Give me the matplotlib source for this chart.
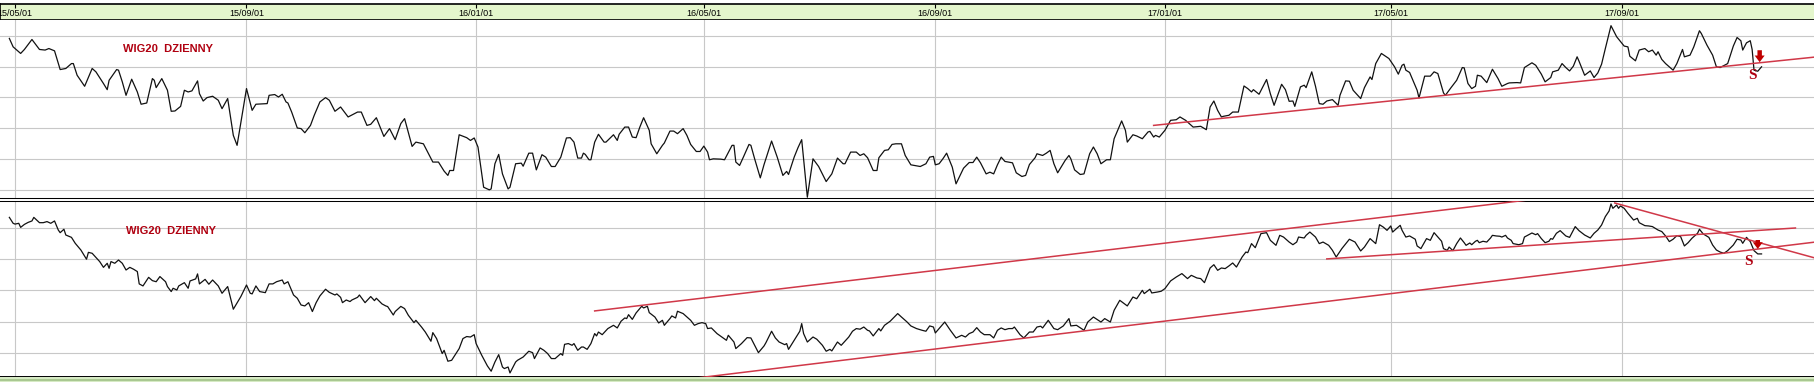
import numpy as np
import matplotlib
matplotlib.use("Agg")
import matplotlib.pyplot as plt
import matplotlib.dates as mdates
from matplotlib.patches import Rectangle

plt.rcParams['font.family'] = ['Liberation Sans', 'DejaVu Sans']

# --- data: days counted from 2015-05-01, index levels ---
START = np.datetime64('2015-05-01')

top_days = [
    -3, -1, 3, 5, 9, 13, 16, 18, 21, 24, 27, 30,
    31, 33, 37, 41, 43, 47, 49, 50, 54, 55, 57, 59,
    62, 65, 67, 70, 73, 74, 75, 78, 81, 83, 85, 88,
    90, 92, 94, 97, 98, 100, 102, 105, 108, 110, 113, 116,
    118, 123, 126, 128, 134, 135, 138, 140, 142, 144, 145, 147,
    150, 152, 154, 157, 159, 162, 165, 167, 170, 173, 177, 182,
    184, 187, 189, 192, 196, 199, 202, 205, 207, 211, 213, 217,
    222, 225, 228, 230, 231, 233, 236, 240, 242, 244, 246, 249,
    252, 253, 255, 257, 259, 262, 263, 266, 269, 270, 273, 275,
    277, 280, 282, 285, 287, 290, 293, 295, 297, 299, 301, 302,
    303, 305, 306, 308, 310, 313, 314, 318, 320, 321, 324, 326,
    328, 330, 332, 334, 337, 338, 341, 344, 345, 348, 350, 352,
    355, 357, 359, 362, 364, 366, 368, 369, 371, 375, 377, 381,
    382, 383, 385, 387, 390, 391, 393, 396, 398, 402, 405, 408,
    410, 411, 414, 416, 418, 421, 424, 427, 431, 434, 437, 440,
    441, 444, 447, 449, 451, 453, 456, 458, 459, 462, 464, 466,
    468, 471, 473, 476, 481, 484, 486, 488, 489, 491, 493, 495,
    498, 500, 504, 507, 509, 511, 513, 516, 518, 520, 522, 524,
    526, 530, 532, 535, 537, 539, 542, 543, 546, 548, 550, 552,
    554, 558, 560, 561, 563, 566, 568, 571, 573, 575, 577, 580,
    582, 584, 588, 590, 591, 594, 596, 599, 602, 603, 605, 606,
    608, 611, 614, 617, 619, 622, 626, 630, 633, 635, 637, 639,
    641, 642, 645, 647, 650, 653, 655, 657, 658, 661, 665, 667,
    669, 673, 675, 677, 679, 680, 683, 685, 686, 689, 691, 693,
    695, 697, 700, 703, 704, 707, 709, 711, 715, 717, 720, 721,
    723, 726, 730, 733, 735, 737, 738, 739, 741, 745, 746, 749,
    752, 754, 756, 759, 760, 763, 766, 769, 770, 772, 774, 776,
    777, 779, 782, 785, 788, 790, 793, 794, 798, 800, 802, 806,
    808, 811, 813, 816, 817, 820, 822, 824, 826, 828, 830, 831,
    834, 837, 839, 841, 843, 845, 848, 851, 855, 857, 858, 861,
    863, 866, 868, 870, 872, 873, 875, 877, 881, 883, 886, 887,
    890, 892, 895, 896, 899, 902, 904, 906, 910, 913, 915, 917,
    918, 920, 922, 923, 924, 926, 928,
]
top_vals = [
    2585, 2530, 2487, 2513, 2578, 2513, 2509, 2519, 2504, 2382, 2389, 2421,
    2421, 2345, 2273, 2389, 2367, 2291, 2251, 2312, 2382, 2378, 2302, 2214,
    2319, 2236, 2156, 2164, 2323, 2312, 2264, 2323, 2247, 2110, 2112, 2142,
    2247, 2236, 2243, 2308, 2225, 2177, 2199, 2208, 2182, 2127, 2193, 1953,
    1888, 2258, 2116, 2156, 2160, 2214, 2219, 2203, 2221, 2171, 2164, 2105,
    2001, 1997, 1970, 2018, 2084, 2171, 2199, 2182, 2110, 2138, 2073, 2105,
    2105, 2018, 2025, 2068, 1946, 1997, 1925, 2030, 2062, 1881, 1909, 1898,
    1779, 1779, 1720, 1692, 1724, 1724, 1957, 1938, 1920, 1936, 1877, 1615,
    1598, 1604, 1768, 1829, 1702, 1604, 1615, 1768, 1772, 1752, 1837, 1837,
    1728, 1827, 1811, 1750, 1750, 1811, 1936, 1938, 1909, 1805, 1805, 1837,
    1829, 1794, 1794, 1909, 1960, 1909, 1909, 1957, 1920, 1960, 2007, 2007,
    1942, 1938, 2007, 2068, 1986, 1898, 1833, 1888, 1903, 1981, 1981, 1964,
    1997, 1953, 1894, 1848, 1848, 1883, 1844, 1794, 1800, 1798, 1794, 1888,
    1888, 1779, 1757, 1811, 1894, 1888, 1800, 1676, 1763, 1916, 1811, 1692,
    1718, 1698, 1811, 1872, 1925, 1550, 1800, 1750, 1652, 1702, 1805, 1768,
    1768, 1844, 1844, 1822, 1833, 1807, 1724, 1724, 1807, 1855, 1859, 1894,
    1898, 1898, 1822, 1761, 1750, 1768, 1811, 1816, 1761, 1768, 1800, 1837,
    1746, 1637, 1739, 1776, 1776, 1811, 1774, 1702, 1713, 1702, 1761, 1811,
    1783, 1774, 1709, 1685, 1692, 1763, 1807, 1833, 1822, 1837, 1855, 1768,
    1709, 1790, 1822, 1800, 1728, 1698, 1702, 1833, 1877, 1833, 1768, 1794,
    1794, 1931, 2047, 1986, 1909, 1957, 1949, 1931, 1975, 1979, 1942, 1953,
    1942, 1986, 2051, 2055, 2073, 2051, 2007, 2012, 1990, 2138, 2177, 2116,
    2073, 2077, 2084, 2105, 2105, 2275, 2258, 2236, 2251, 2221, 2317, 2225,
    2149, 2286, 2251, 2175, 2177, 2142, 2269, 2280, 2264, 2367, 2273, 2160,
    2156, 2177, 2186, 2149, 2214, 2308, 2306, 2247, 2193, 2264, 2334, 2317,
    2421, 2487, 2454, 2400, 2352, 2410, 2417, 2378, 2363, 2247, 2197, 2339,
    2339, 2367, 2356, 2230, 2214, 2264, 2312, 2395, 2393, 2291, 2258, 2273,
    2345, 2339, 2297, 2384, 2323, 2273, 2291, 2295, 2297, 2295, 2395, 2426,
    2410, 2352, 2302, 2330, 2367, 2378, 2421, 2395, 2373, 2404, 2465, 2437,
    2345, 2373, 2330, 2360, 2417, 2519, 2668, 2596, 2535, 2530, 2469, 2439,
    2509, 2519, 2498, 2509, 2476, 2498, 2448, 2421, 2378, 2421, 2513, 2465,
    2476, 2530, 2635, 2617, 2541, 2476, 2400, 2395, 2421, 2535, 2591, 2570,
    2509, 2556, 2570, 2513, 2378, 2371, 2400,
]

bot_days = [
    -3, -1, 0, 2, 3, 5, 7, 9, 10, 13, 15, 17,
    19, 21, 23, 24, 26, 27, 30, 32, 35, 38, 39, 41,
    43, 45, 47, 49, 50, 51, 53, 55, 57, 59, 61, 63,
    65, 66, 68, 71, 73, 75, 77, 80, 81, 83, 84, 86,
    87, 90, 92, 93, 96, 97, 98, 101, 103, 105, 108, 110,
    113, 116, 120, 123, 125, 126, 128, 130, 133, 135, 137, 139,
    142, 143, 145, 148, 150, 152, 154, 156, 158, 160, 162, 165,
    167, 170, 171, 173, 174, 176, 178, 179, 182, 183, 186, 189,
    191, 192, 195, 197, 198, 201, 202, 205, 207, 209, 212, 213,
    216, 218, 221, 222, 224, 227, 228, 230, 232, 236, 238, 240,
    242, 244, 245, 248, 251, 253, 255, 257, 259, 260, 262, 263,
    266, 267, 270, 273, 275, 276, 279, 281, 283, 285, 287, 290,
    291, 292, 294, 296, 297, 299, 301, 302, 304, 306, 308, 309,
    310, 312, 315, 318, 320, 322, 324, 325, 326, 328, 330, 333,
    334, 336, 337, 340, 342, 344, 345, 348, 349, 351, 352, 355,
    359, 361, 363, 365, 367, 368, 370, 373, 375, 378, 379, 382,
    383, 386, 389, 391, 393, 395, 398, 399, 402, 404, 406, 409,
    410, 411, 414, 417, 418, 419, 421, 424, 426, 429, 431, 433,
    434, 437, 439, 443, 445, 447, 449, 451, 453, 454, 456, 459,
    460, 462, 465, 469, 471, 474, 476, 479, 482, 484, 486, 488,
    489, 491, 494, 497, 500, 503, 505, 507, 509, 511, 513, 515,
    518, 520, 522, 524, 526, 528, 530, 531, 534, 536, 539, 541,
    543, 545, 546, 549, 552, 554, 557, 560, 561, 564, 568, 570,
    573, 577, 579, 582, 584, 587, 591, 594, 596, 599, 600, 603,
    604, 607, 609, 611, 614, 617, 620, 623, 625, 628, 630, 632,
    635, 637, 639, 641, 643, 645, 647, 649, 652, 654, 655, 657,
    659, 662, 665, 667, 670, 672, 674, 677, 679, 681, 682, 685,
    686, 688, 691, 693, 695, 698, 700, 702, 705, 709, 712, 715,
    717, 720, 723, 725, 727, 729, 731, 732, 734, 736, 737, 739,
    741, 744, 745, 747, 750, 752, 754, 756, 758, 759, 761, 762,
    764, 766, 768, 770, 771, 773, 774, 776, 777, 778, 780, 782,
    784, 785, 787, 789, 790, 792, 793, 795, 796, 799, 801, 802,
    806, 808, 809, 811, 813, 815, 816, 817, 819, 821, 824, 826,
    829, 831, 834, 837, 839, 841, 843, 845, 847, 848, 849, 851,
    852, 853, 855, 857, 860, 862, 863, 866, 868, 870, 873, 875,
    877, 879, 881, 883, 885, 887, 889, 891, 894, 895, 897, 900,
    902, 904, 906, 908, 910, 913, 915, 917, 918, 920, 922, 924,
    926, 928,
]
bot_vals = [
    2668, 2630, 2625, 2630, 2604, 2623, 2636, 2645, 2668, 2634, 2634, 2641,
    2630, 2645, 2587, 2570, 2592, 2555, 2540, 2502, 2459, 2400, 2444, 2438,
    2412, 2385, 2348, 2374, 2342, 2385, 2374, 2395, 2374, 2331, 2348, 2336,
    2321, 2242, 2229, 2284, 2263, 2256, 2289, 2256, 2225, 2193, 2214, 2203,
    2229, 2250, 2214, 2261, 2274, 2306, 2242, 2271, 2240, 2267, 2229, 2182,
    2225, 2080, 2161, 2235, 2182, 2178, 2229, 2193, 2186, 2242, 2242, 2256,
    2267, 2242, 2256, 2171, 2150, 2107, 2101, 2122, 2065, 2122, 2165, 2208,
    2188, 2171, 2178, 2156, 2122, 2139, 2129, 2139, 2156, 2171, 2122, 2161,
    2135, 2150, 2114, 2101, 2097, 2043, 2065, 2098, 2084, 2041, 1994, 2009,
    1966, 1934, 1875, 1930, 1892, 1796, 1817, 1747, 1753, 1828, 1892, 1905,
    1902, 1917, 1860, 1785, 1717, 1683, 1742, 1789, 1710, 1700, 1710, 1672,
    1742, 1753, 1774, 1811, 1802, 1764, 1832, 1817, 1796, 1764, 1764, 1796,
    1785, 1855, 1860, 1849, 1860, 1817, 1838, 1838, 1823, 1860, 1924, 1909,
    1934, 1917, 1956, 1977, 1960, 2003, 2024, 2020, 2045, 2015, 2056, 2099,
    2088, 2099, 2058, 2030, 1992, 2009, 1977, 2020, 2037, 2024, 2067, 2052,
    2009, 1977, 1988, 1994, 1988, 1956, 1960, 1924, 1907, 1881, 1913, 1870,
    1828, 1860, 1898, 1896, 1849, 1802, 1845, 1866, 1939, 1896, 1870, 1853,
    1860, 1823, 1881, 1939, 1988, 1924, 1870, 1902, 1888, 1849, 1811, 1823,
    1813, 1870, 1849, 1902, 1939, 1956, 1952, 1966, 1945, 1941, 1909, 1956,
    1941, 1977, 2003, 2052, 2030, 1998, 1973, 1956, 1945, 1939, 1973, 1966,
    1928, 1956, 1998, 1945, 1896, 1913, 1902, 1924, 1934, 1962, 1934, 1917,
    1917, 1896, 1945, 1960, 1949, 1956, 1956, 1966, 1917, 1896, 1934, 1934,
    1966, 1971, 1960, 2009, 1956, 1949, 1973, 2020, 1973, 1977, 1945, 1998,
    2030, 1998, 2020, 1998, 2073, 2137, 2101, 2158, 2147, 2201, 2180, 2208,
    2184, 2190, 2195, 2212, 2261, 2286, 2308, 2276, 2297, 2280, 2276, 2250,
    2344, 2365, 2329, 2344, 2340, 2357, 2376, 2350, 2414, 2446, 2442, 2500,
    2474, 2564, 2570, 2521, 2489, 2553, 2542, 2510, 2493, 2510, 2542, 2536,
    2553, 2574, 2542, 2500, 2510, 2489, 2457, 2414, 2468, 2528, 2510, 2453,
    2478, 2532, 2500, 2621, 2606, 2585, 2613, 2574, 2596, 2617, 2585, 2542,
    2549, 2528, 2485, 2468, 2532, 2521, 2570, 2542, 2515, 2468, 2457, 2478,
    2455, 2500, 2536, 2506, 2489, 2504, 2493, 2515, 2521, 2506, 2515, 2510,
    2536, 2553, 2549, 2547, 2542, 2553, 2536, 2521, 2500, 2493, 2500, 2542,
    2568, 2557, 2564, 2532, 2506, 2515, 2532, 2528, 2566, 2583, 2549, 2540,
    2609, 2583, 2555, 2536, 2566, 2587, 2619, 2673, 2709, 2754, 2726, 2747,
    2726, 2741, 2726, 2694, 2651, 2662, 2634, 2615, 2613, 2609, 2587, 2577,
    2549, 2513, 2528, 2551, 2545, 2485, 2506, 2534, 2566, 2592, 2562, 2540,
    2491, 2459, 2446, 2438, 2455, 2491, 2528, 2523, 2502, 2540, 2513, 2455,
    2434, 2434,
]

# trend lines: (start day, start level, end day, end level)
top_trends = [(605, 2018, 960, 2468)]
bot_trends = [
    (308, 2069, 840, 2831),
    (340, 1607, 960, 2515),
    (697, 2402, 946, 2600),
    (850, 2760, 960, 2396),
]

# sell signals: arrow (day, from level, to level), 'S' label (day, level)
top_signal = dict(arrow=(927, 2508, 2430), label=(923, 2345))
bot_signal = dict(arrow=(926, 2523, 2466), label=(921, 2384))

top_grid = [1600, 1800, 2000, 2200, 2400, 2600]
bot_grid = [1800, 2000, 2200, 2400, 2600]
title = "WIG20  DZIENNY"


def to_dates(days):
    return START + np.array(days, dtype='timedelta64[D]')


W, H = 1815, 382
fig = plt.figure(figsize=(W / 100, H / 100), dpi=100)

x0 = mdates.date2num(START)
xlim = (x0 - 7.97, x0 + 956.4)

RED = '#d03848'
DARKRED = '#b00010'
GRID = '#c8c8c8'

# header with dates
ax_head = fig.add_axes([0, 1 - 20 / H, 1, 16 / H])
ax_head.set_facecolor('#e4f6cc')
ax_head.set_xlim(xlim)
ax_head.set_ylim(0, 1)
ax_head.set_yticks([])
ax_head.xaxis.set_major_locator(mdates.MonthLocator(bymonth=[1, 5, 9], bymonthday=1))
ax_head.xaxis.set_major_formatter(mdates.DateFormatter('%y/%m/%d'))
ax_head.tick_params(axis='x', bottom=False, top=True, direction='in', length=3,
                    width=0.8, labelbottom=True, labelsize=6.5, pad=-8)
for sp in ax_head.spines.values():
    sp.set_linewidth(1.2)


def panel(rect, days, vals, ylim, grid, trends, signal):
    ax = fig.add_axes(rect)
    ax.set_xlim(xlim)
    ax.set_ylim(ylim)
    ax.set_yticks(grid)
    ax.xaxis.set_major_locator(mdates.MonthLocator(bymonth=[1, 5, 9], bymonthday=1))
    ax.grid(True, color=GRID, lw=0.8)
    ax.set_axisbelow(True)
    ax.tick_params(length=0, labelleft=False, labelbottom=False)
    ax.spines['left'].set_visible(False)
    ax.spines['right'].set_visible(False)
    ax.spines['top'].set_linewidth(0.75)
    ax.spines['bottom'].set_linewidth(0.75)

    ax.plot(to_dates(days), vals, color='#111111', lw=0.9, zorder=3)
    for d0, v0, d1, v1 in trends:
        ax.plot(to_dates([d0, d1]), [v0, v1], color=RED, lw=1.1, zorder=4)

    ad, a_from, a_to = signal['arrow']
    xd = to_dates([ad])[0]
    ax.annotate('', xy=(xd, a_to), xytext=(xd, a_from),
                arrowprops=dict(arrowstyle='simple,head_length=0.6,head_width=0.9,tail_width=0.4',
                                fc='#c00000', ec='none', mutation_scale=8,
                                shrinkA=0, shrinkB=0), zorder=5)
    ld, lv = signal['label']
    ax.text(to_dates([ld])[0], lv, 'S', color=DARKRED, fontsize=11, fontweight='bold',
            family='Liberation Serif', ha='center', va='center', zorder=5)
    return ax


ax1 = panel([0, 1 - 197.5 / H, 1, 177.5 / H], top_days, top_vals, (1548, 2705),
            top_grid, top_trends, top_signal)
ax1.spines['top'].set_visible(False)
ax1.text(0.0926, 0.836, title, transform=ax1.transAxes, color=DARKRED,
         fontsize=8, fontweight='bold', ha='center', va='center')

ax2 = panel([0, 1 - 377 / H, 1, 176.5 / H], bot_days, bot_vals, (1646, 2776),
            bot_grid, bot_trends, bot_signal)
ax2.spines['bottom'].set_linewidth(1.4)
ax2.text(0.0942, 0.826, title, transform=ax2.transAxes, color=DARKRED,
         fontsize=8, fontweight='bold', ha='center', va='center')

# green strip at the very bottom
fig.patches.append(Rectangle((0, 0), 1, 5 / H, transform=fig.transFigure,
                             facecolor='#d6eac4', edgecolor='none'))
fig.patches.append(Rectangle((0, 1.5 / H), 1, 2 / H, transform=fig.transFigure,
                             facecolor='#a9c891', edgecolor='none'))

fig.savefig('out.png', dpi=100)
plt.close(fig)
